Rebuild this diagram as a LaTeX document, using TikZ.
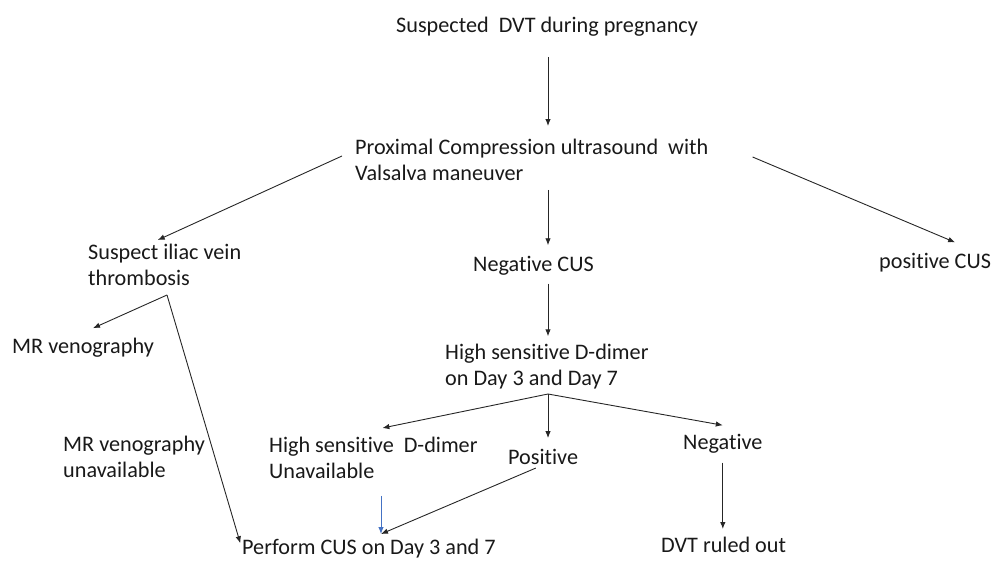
\documentclass[tikz,border=0pt]{standalone}
\usepackage{fontspec}
\setmainfont{Carlito}[Ligatures=NoCommon]
\usetikzlibrary{arrows.meta}
\definecolor{linkblue}{RGB}{68,114,196}
\begin{document}
\begin{tikzpicture}[x=1pt, y=-1pt,%
      txt/.style={inner sep=0pt, align=left, anchor=west, text=black!90, font=\fontsize{22.2}{26}\selectfont},
      arr/.style={-{Latex[length=7pt,width=5.5pt]}, line width=0.9pt, black!85}]
      \useasboundingbox (0,0) rectangle (992,561);
      \node[txt] (susp) at (396,27) {Suspected\ \ DVT during pregnancy};
      \node[txt] (prox) at (355,160) {Proximal Compression ultrasound\ \ with\\Valsalva maneuver};
      \node[txt] (iliac) at (88,265) {Suspect iliac vein\\thrombosis};
      \node[txt] (negcus) at (473,266) {Negative CUS};
      \node[txt] (poscus) at (879,263) {positive CUS};
      \node[txt] (mrv) at (12,348) {MR venography};
      \node[txt] (ddimer) at (445,367) {High sensitive D-dimer\\on Day 3 and Day 7};
      \node[txt] (mrvna) at (63,457) {MR venography\\unavailable};
      \node[txt] (unavail) at (269,458) {High sensitive\ \ D-dimer\\Unavailable};
      \node[txt] (pos) at (508,457) {Positive};
      \node[txt] (neg) at (683,444) {Negative};
      \node[txt] (cus) at (242,549) {Perform CUS on Day 3 and 7};
      \node[txt] (ruled) at (661,545) {DVT ruled out};
      % branch points
      \coordinate (fork) at (167,295);
      \coordinate (split) at (548,394);
      \coordinate (meet) at (381,534);
      \draw[arr] (susp.south -| split) ++(0,-20pt) -- ([yshift=13pt]prox.north -| split);
      \draw[arr] ([xshift=-13pt,yshift=4pt]prox.west) -- ([xshift=-7pt,yshift=4pt]iliac.north);
      \draw[arr] ([xshift=44pt,yshift=3pt]prox.east) -- ([xshift=20pt,yshift=11pt]poscus.north);
      \draw[arr] ([yshift=-9pt]prox.south -| split) -- ([yshift=11pt]negcus.north -| split);
      \draw[arr] ([yshift=-8pt]negcus.south -| split) -- ([yshift=8pt]ddimer.north -| split);
      \draw[arr] (split) -- ([xshift=9pt,yshift=9pt]unavail.north);
      \draw[arr] (split) -- ([yshift=11pt]pos.north -| split);
      \draw[arr] (split) -- ([yshift=9pt]neg.north);
      \draw[arr, shorten <=9pt, shorten >=8pt] (neg.south) -- (neg.south |- ruled.north);
      \draw[arr, shorten <=8pt] (pos.south) -- (meet);
      \draw[arr, linkblue] ([yshift=-17pt]unavail.south -| meet) -- (meet);
      \draw[arr] (fork) -- ([xshift=10pt,yshift=10pt]mrv.north);
      \draw[arr, shorten >=6pt] (fork) -- (cus.west);
    \end{tikzpicture}
\end{document}
